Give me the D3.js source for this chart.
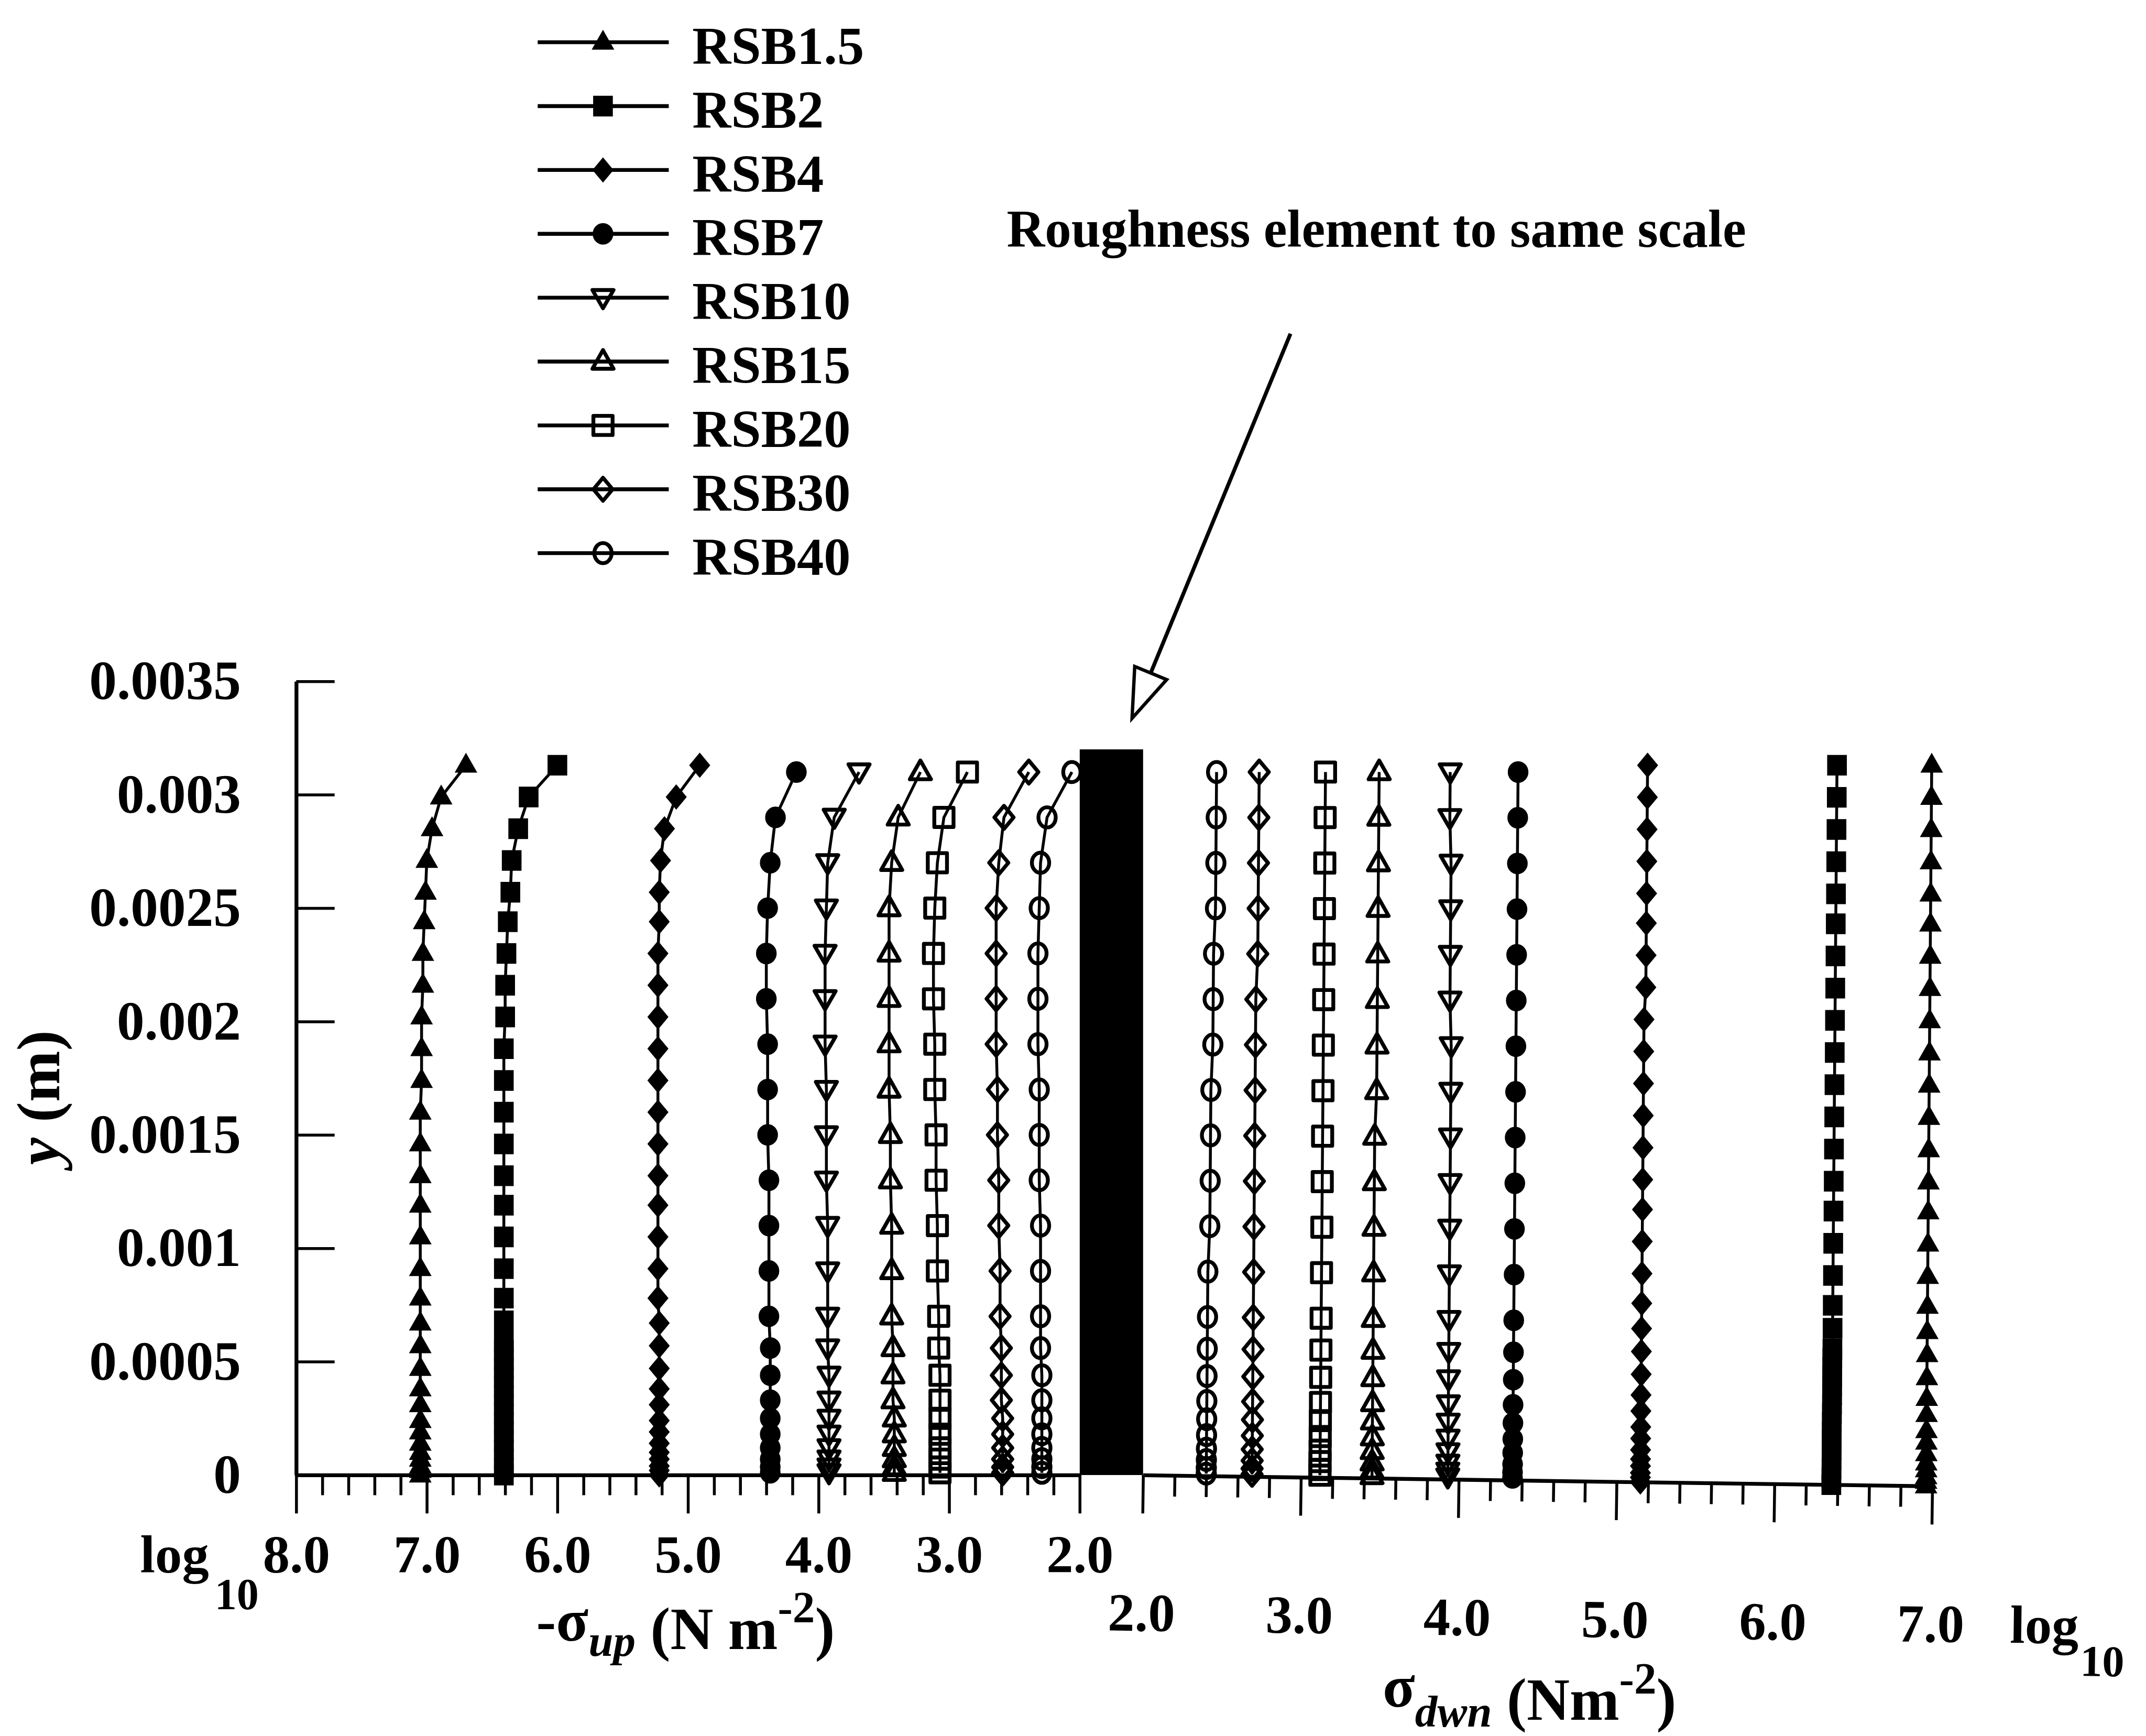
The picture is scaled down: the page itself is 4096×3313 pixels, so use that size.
<!DOCTYPE html>
<html>
<head>
<meta charset="utf-8">
<script src="https://cdn.jsdelivr.net/npm/d3@7"></script>
<style>
  html, body { margin: 0; padding: 0; background: #fff; }
  svg { display: block; }
</style>
</head>
<body>
<script>
// Stress profiles along the upstream (-σup) and downstream (σdwn) faces
// of a roughness element, for a family of RSB cases.

const seriesNames = ["RSB1.5", "RSB2", "RSB4", "RSB7", "RSB10", "RSB15", "RSB20", "RSB30", "RSB40"];

// Node heights above the wall (m)
const heightsFine = [0.00313, 0.00299, 0.00285, 0.00271, 0.00257, 0.00244, 0.00230, 0.00216, 0.00202,
  0.00188, 0.00174, 0.00160, 0.00146, 0.00132, 0.00119, 0.00105, 0.00091, 0.00078, 0.00067, 0.00057,
  0.00047, 0.00038, 0.00031, 0.00024, 0.00019, 0.00014, 0.00010, 0.00007, 0.00004, 0.00002, 0];
const heightsRSB2 = [0.00313, 0.00299, 0.00285, 0.00271, 0.00257, 0.00244, 0.00230, 0.00216, 0.00202,
  0.00188, 0.00174, 0.00160, 0.00146, 0.00132, 0.00119, 0.00105, 0.00091, 0.00078, 0.00068, 0.00059,
  0.00055, 0.00051, 0.00047, 0.00043, 0.00039, 0.00035, 0.00031, 0.00027, 0.00023, 0.00019, 0.00015,
  0.00011, 0.00007, 0.00003, 0];
const heightsCoarse = [0.0031, 0.0029, 0.0027, 0.0025, 0.0023, 0.0021, 0.0019, 0.0017, 0.0015, 0.0013,
  0.0011, 0.0009, 0.0007, 0.00056, 0.00044, 0.00033, 0.00025, 0.00018, 0.00012, 0.00007, 0.000035, 0.00001];

// Upstream face: log10(-σup)
const upRSB1_5 = [6.70, 6.89, 6.96, 7.00, 7.01, 7.02, 7.03, 7.03, 7.04, 7.04, 7.04, 7.05, 7.05, 7.05, 7.05,
  7.05, 7.05, 7.05, 7.05, 7.05, 7.05, 7.05, 7.05, 7.05, 7.05, 7.05, 7.05, 7.05, 7.05, 7.05, 7.05];
const upRSB2 = [6.00, 6.22, 6.30, 6.35, 6.36, 6.38, 6.39, 6.40, 6.40, 6.41, 6.41, 6.41, 6.41, 6.41, 6.41,
  6.41, 6.41, 6.41, 6.41, 6.41, 6.41, 6.41, 6.41, 6.41, 6.41, 6.41, 6.41, 6.41, 6.41, 6.41, 6.41,
  6.41, 6.41, 6.41, 6.41];
const upRSB4 = [4.91, 5.09, 5.18, 5.21, 5.22, 5.22, 5.23, 5.23, 5.23, 5.23, 5.23, 5.23, 5.23, 5.23, 5.23,
  5.23, 5.23, 5.23, 5.22, 5.22, 5.22, 5.22, 5.22, 5.22, 5.22, 5.22, 5.22, 5.22, 5.22, 5.22, 5.22];
const upRSB7 = [4.17, 4.33, 4.37, 4.39, 4.40, 4.40, 4.39, 4.39, 4.39, 4.38, 4.38, 4.38, 4.38, 4.37, 4.37,
  4.37, 4.37, 4.37, 4.37, 4.37, 4.37, 4.37];
const upRSB10 = [3.69, 3.88, 3.93, 3.94, 3.95, 3.95, 3.95, 3.94, 3.94, 3.94, 3.93, 3.93, 3.93, 3.93, 3.92,
  3.92, 3.92, 3.92, 3.92, 3.92, 3.92, 3.92];
const upRSB15 = [3.22, 3.39, 3.44, 3.46, 3.46, 3.46, 3.46, 3.46, 3.45, 3.45, 3.44, 3.44, 3.44, 3.43, 3.43,
  3.43, 3.42, 3.42, 3.42, 3.42, 3.42, 3.42];
const upRSB20 = [2.86, 3.04, 3.09, 3.11, 3.12, 3.12, 3.11, 3.11, 3.10, 3.10, 3.09, 3.09, 3.08, 3.08, 3.07,
  3.07, 3.07, 3.07, 3.07, 3.07, 3.07, 3.07];
const upRSB30 = [2.39, 2.58, 2.62, 2.64, 2.64, 2.64, 2.64, 2.63, 2.63, 2.62, 2.62, 2.61, 2.61, 2.60, 2.60,
  2.60, 2.59, 2.59, 2.59, 2.59, 2.59, 2.59];
const upRSB40 = [2.06, 2.25, 2.30, 2.31, 2.32, 2.32, 2.32, 2.31, 2.31, 2.31, 2.30, 2.30, 2.30, 2.30, 2.29,
  2.29, 2.29, 2.29, 2.29, 2.29, 2.29, 2.29];

// Downstream face: log10(σdwn)
const dnRSB1_5 = [6.96, 6.96, 6.96, 6.96, 6.96, 6.96, 6.96, 6.96, 6.96, 6.96, 6.96, 6.96, 6.96, 6.96, 6.96,
  6.96, 6.96, 6.96, 6.96, 6.96, 6.96, 6.96, 6.96, 6.96, 6.96, 6.96, 6.96, 6.96, 6.96, 6.96, 6.96];
const dnRSB2 = [6.36, 6.36, 6.36, 6.36, 6.36, 6.36, 6.36, 6.36, 6.36, 6.36, 6.36, 6.36, 6.36, 6.36, 6.36,
  6.36, 6.36, 6.36, 6.36, 6.36, 6.36, 6.36, 6.36, 6.36, 6.36, 6.36, 6.36, 6.36, 6.36, 6.36, 6.36,
  6.36, 6.36, 6.36, 6.36];
const dnRSB4 = [5.16, 5.16, 5.16, 5.16, 5.16, 5.16, 5.16, 5.16, 5.15, 5.15, 5.15, 5.15, 5.15, 5.15, 5.15,
  5.15, 5.15, 5.15, 5.15, 5.15, 5.15, 5.15, 5.15, 5.15, 5.15, 5.15, 5.15, 5.15, 5.15, 5.15, 5.15];
const dnRSB7 = [4.34, 4.34, 4.34, 4.34, 4.34, 4.34, 4.34, 4.34, 4.34, 4.34, 4.34, 4.34, 4.34, 4.34, 4.34,
  4.34, 4.34, 4.34, 4.34, 4.34, 4.34, 4.34];
const dnRSB10 = [3.91, 3.91, 3.92, 3.92, 3.92, 3.92, 3.93, 3.93, 3.93, 3.93, 3.93, 3.93, 3.93, 3.93, 3.93,
  3.93, 3.93, 3.93, 3.93, 3.93, 3.93, 3.93];
const dnRSB15 = [3.46, 3.46, 3.46, 3.46, 3.46, 3.46, 3.46, 3.46, 3.45, 3.45, 3.45, 3.45, 3.45, 3.45, 3.45,
  3.45, 3.45, 3.45, 3.45, 3.45, 3.45, 3.45];
const dnRSB20 = [3.12, 3.12, 3.12, 3.12, 3.12, 3.12, 3.12, 3.12, 3.12, 3.12, 3.12, 3.12, 3.12, 3.12, 3.12,
  3.12, 3.12, 3.12, 3.12, 3.12, 3.12, 3.12];
const dnRSB30 = [2.70, 2.70, 2.70, 2.70, 2.70, 2.69, 2.69, 2.69, 2.69, 2.69, 2.69, 2.69, 2.69, 2.69, 2.69,
  2.69, 2.69, 2.69, 2.69, 2.69, 2.69, 2.69];
const dnRSB40 = [2.43, 2.43, 2.43, 2.43, 2.42, 2.42, 2.42, 2.41, 2.41, 2.41, 2.41, 2.40, 2.40, 2.40, 2.40,
  2.40, 2.40, 2.40, 2.40, 2.40, 2.40, 2.40];

// Axis ticks and labels
const yTicks = [0, 0.0005, 0.001, 0.0015, 0.002, 0.0025, 0.003, 0.0035];
const yTickLabels = ["0", "0.0005", "0.001", "0.0015", "0.002", "0.0025", "0.003", "0.0035"];
const upTicks = [8, 7, 6, 5, 4, 3, 2];
const upTickLabels = ["8.0", "7.0", "6.0", "5.0", "4.0", "3.0", "2.0"];
const dnTicks = [2, 3, 4, 5, 6, 7];
const dnTickLabels = ["2.0", "3.0", "4.0", "5.0", "6.0", "7.0"];
const elementHeight = 0.0032;   // roughness element, same vertical scale

// ---------------------------------------------------------------------------
const W = 4096, H = 3313, S = W / 4470;
const FONT = "'Liberation Serif','Times New Roman',Times,serif";

const svg = d3.select("body").append("svg")
  .attr("width", W).attr("height", H).attr("viewBox", `0 0 ${W} ${H}`);
svg.append("rect").attr("width", W).attr("height", H).attr("fill", "#fff");
const root = svg.append("g").attr("transform", `scale(${S})`);

const y = d3.scaleLinear().domain([0, 0.0035]).range([3072, 1419]);
const xUp = d3.scaleLinear().domain([8, 2]).range([617, 2249]);
const xDn = d3.scaleLinear().domain([2, 7]).range([2381, 4025]);

// The downstream panel sits a little skewed: its baseline falls to the right
// while the profile tops stay level, and the profiles lean slightly right.
const dnDip = 0.014;
const dnLean = 0.008;
const dnDipDeg = Math.atan(dnDip) * 180 / Math.PI;
const profileTop = 0.0031;
function dnPoint(v, h) {
  const px = xDn(v), py = y(h);
  const rise = y(0) - py;
  const frac = Math.min(rise / (y(0) - y(profileTop)), 1);
  return [px + dnLean * rise, py + dnDip * (px - xDn(2)) * (1 - frac)];
}

// Marker glyphs
const shapes = {
  triUp: "M0,-23L21,14L-21,14Z",
  triDown: "M0,22L21,-15L-21,-15Z",
  square: "M-19,-20H19V20H-19Z",
  diamond: "M0,-24L20,0L0,24L-20,0Z",
  circle: "M20,0A20,21 0 1 1 -20,0A20,21 0 1 1 20,0Z"
};
const openShapes = {
  triUp: "M0,-24L22,15L-22,15Z",
  triDown: "M0,22L22,-16L-22,-16Z",
  square: "M-20,-20H20V20H-20Z",
  diamond: "M0,-24L20,0L0,24L-20,0Z",
  circle: "M18,0A18,21 0 1 1 -18,0A18,21 0 1 1 18,0Z"
};
const markerStyles = [
  { shape: "triUp", filled: true },
  { shape: "square", filled: true },
  { shape: "diamond", filled: true },
  { shape: "circle", filled: true },
  { shape: "triDown", filled: false },
  { shape: "triUp", filled: false },
  { shape: "square", filled: false },
  { shape: "diamond", filled: false },
  { shape: "circle", filled: false }
];

function applyMarker(sel, style) {
  if (style.filled) {
    sel.attr("d", shapes[style.shape]).attr("fill", "#000").attr("stroke", "#000").attr("stroke-width", 3);
  } else {
    sel.attr("d", openShapes[style.shape]).attr("fill", "none").attr("stroke", "#000")
      .attr("stroke-width", 8).attr("stroke-linejoin", "round");
  }
}

const upstream = [
  { h: heightsFine, v: upRSB1_5 }, { h: heightsRSB2, v: upRSB2 }, { h: heightsFine, v: upRSB4 },
  { h: heightsCoarse, v: upRSB7 }, { h: heightsCoarse, v: upRSB10 }, { h: heightsCoarse, v: upRSB15 },
  { h: heightsCoarse, v: upRSB20 }, { h: heightsCoarse, v: upRSB30 }, { h: heightsCoarse, v: upRSB40 }
];
const downstream = [
  { h: heightsFine, v: dnRSB1_5 }, { h: heightsRSB2, v: dnRSB2 }, { h: heightsFine, v: dnRSB4 },
  { h: heightsCoarse, v: dnRSB7 }, { h: heightsCoarse, v: dnRSB10 }, { h: heightsCoarse, v: dnRSB15 },
  { h: heightsCoarse, v: dnRSB20 }, { h: heightsCoarse, v: dnRSB30 }, { h: heightsCoarse, v: dnRSB40 }
];

// Draw an axis into a fresh group and give it the figure's typography
function drawAxis(parent, axis, size) {
  const g = parent.append("g").call(axis);
  g.attr("font-family", FONT).attr("font-size", size).attr("font-weight", "bold");
  g.selectAll(".domain").attr("stroke-width", 8);
  g.selectAll(".tick line").attr("stroke-width", 6);
  g.selectAll("text").attr("fill", "#000");
  return g;
}

// ---- y axis --------------------------------------------------------------
const yAxisHolder = root.append("g").attr("transform", `translate(${xUp(8)},0)`);
drawAxis(yAxisHolder, d3.axisLeft(y).tickValues(yTicks).tickSize(-80).tickSizeOuter(0).tickPadding(115)
  .tickFormat((d, i) => yTickLabels[i]), 115);

const yTitle = root.append("text")
  .attr("transform", "translate(123,2286) rotate(-90)")
  .attr("text-anchor", "middle").attr("font-family", FONT).attr("font-size", 128).attr("font-weight", "bold");
yTitle.append("tspan").attr("font-style", "italic").text("y");
yTitle.append("tspan").text(" (m)");

// ---- upstream x axis -----------------------------------------------------
const upMinor = d3.range(2.2, 8, 0.2).filter(v => Math.abs(v - Math.round(v)) > 0.05);
const upAxisG = root.append("g").attr("transform", `translate(0,${y(0)})`);
drawAxis(upAxisG, d3.axisBottom(xUp).tickValues(upMinor).tickSize(42).tickSizeOuter(0).tickFormat(""), 112)
  .call(g => g.select(".domain").remove());
drawAxis(upAxisG, d3.axisBottom(xUp).tickValues(upTicks).tickSize(80).tickSizeOuter(0).tickPadding(44)
  .tickFormat((d, i) => upTickLabels[i]), 112);

const upLog = root.append("text").attr("x", 292).attr("y", 3275)
  .attr("font-family", FONT).attr("font-size", 112).attr("font-weight", "bold");
upLog.append("tspan").text("log");
upLog.append("tspan").attr("font-size", 92).attr("dx", 12).attr("dy", 76).text("10");

const upTitle = root.append("text").attr("x", 1117).attr("y", 3434)
  .attr("font-family", FONT).attr("font-size", 124).attr("font-weight", "bold");
upTitle.append("tspan").attr("dy", -17).text("-σ");
upTitle.append("tspan").attr("font-size", 93).attr("font-style", "italic").attr("dy", 32).text("up");
upTitle.append("tspan").attr("dy", -15).text(" (N m");
upTitle.append("tspan").attr("font-size", 93).attr("dy", -55).text("-2");
upTitle.append("tspan").attr("dy", 55).text(")");

// ---- downstream x axis ---------------------------------------------------
const dnMinor = d3.range(2.2, 7, 0.2).filter(v => Math.abs(v - Math.round(v)) > 0.05);
const dnPanelAxis = root.append("g").attr("transform", `rotate(${dnDipDeg},${xDn(2)},${y(0)})`);
const dnAxisG = dnPanelAxis.append("g").attr("transform", `translate(0,${y(0)})`);
drawAxis(dnAxisG, d3.axisBottom(xDn).tickValues(dnMinor).tickSize(44).tickSizeOuter(0).tickFormat(""), 112)
  .call(g => g.select(".domain").remove());
drawAxis(dnAxisG, d3.axisBottom(xDn).tickValues(dnTicks).tickSize(80).tickSizeOuter(0).tickPadding(165)
  .tickFormat((d, i) => dnTickLabels[i]), 112);

const dnLog = dnPanelAxis.append("text").attr("x", 4191).attr("y", y(0) + 324)
  .attr("font-family", FONT).attr("font-size", 112).attr("font-weight", "bold");
dnLog.append("tspan").text("log");
dnLog.append("tspan").attr("font-size", 92).attr("dx", 4).attr("dy", 67).text("10");

const dnTitle = root.append("text").attr("x", 2880).attr("y", 3582)
  .attr("font-family", FONT).attr("font-size", 124).attr("font-weight", "bold");
dnTitle.append("tspan").attr("dy", -28).text("σ");
dnTitle.append("tspan").attr("font-size", 93).attr("font-style", "italic").attr("dy", 42).text("dwn");
dnTitle.append("tspan").attr("dy", -14).text(" (Nm");
dnTitle.append("tspan").attr("font-size", 93).attr("dy", -55).text("-2");
dnTitle.append("tspan").attr("dy", 55).text(")");

// ---- roughness element ---------------------------------------------------
root.append("rect")
  .attr("x", xUp(2)).attr("y", y(elementHeight))
  .attr("width", xDn(2) - xUp(2)).attr("height", y(0) - y(elementHeight))
  .attr("fill", "#000");

// ---- profiles ------------------------------------------------------------
const line = d3.line();
function drawProfile(pts, style) {
  const g = root.append("g");
  g.append("path").attr("d", line(pts)).attr("fill", "none")
    .attr("stroke", "#000").attr("stroke-width", 6).attr("stroke-linejoin", "round");
  g.selectAll("path.mk").data(pts).join("path").attr("class", "mk")
    .attr("transform", d => `translate(${d[0]},${d[1]})`)
    .call(sel => applyMarker(sel, style));
}
upstream.forEach((s, i) => drawProfile(s.h.map((h, k) => [xUp(s.v[k]), y(h)]), markerStyles[i]));
downstream.forEach((s, i) => drawProfile(s.h.map((h, k) => dnPoint(s.v[k], h)), markerStyles[i]));

// ---- legend --------------------------------------------------------------
const legendTop = 88, legendStep = 133;
seriesNames.forEach((name, i) => {
  const ly = legendTop + i * legendStep;
  const g = root.append("g");
  g.append("line").attr("x1", 1120).attr("x2", 1393).attr("y1", ly).attr("y2", ly)
    .attr("stroke", "#000").attr("stroke-width", 8);
  g.append("path").attr("transform", `translate(1256,${ly})`).call(sel => applyMarker(sel, markerStyles[i]));
  g.append("text").attr("x", 1442).attr("y", ly + 45)
    .attr("font-family", FONT).attr("font-size", 112).attr("font-weight", "bold").text(name);
});

// ---- annotation ----------------------------------------------------------
root.append("text").attr("x", 2097).attr("y", 514)
  .attr("font-family", FONT).attr("font-size", 112).attr("font-weight", "bold")
  .attr("textLength", 1540).attr("lengthAdjust", "spacingAndGlyphs")
  .text("Roughness element to same scale");

const arrowStart = [2688, 695], arrowTip = [2358, 1496];
const ax = arrowTip[0] - arrowStart[0], ay = arrowTip[1] - arrowStart[1];
const alen = Math.hypot(ax, ay), ux = ax / alen, uy = ay / alen;
const headLen = 102, headHalf = 36;
const base = [arrowTip[0] - ux * headLen, arrowTip[1] - uy * headLen];
root.append("line").attr("x1", arrowStart[0]).attr("y1", arrowStart[1])
  .attr("x2", base[0]).attr("y2", base[1]).attr("stroke", "#000").attr("stroke-width", 8);
root.append("path")
  .attr("d", `M${arrowTip[0]},${arrowTip[1]}L${base[0] - uy * headHalf},${base[1] + ux * headHalf}` +
    `L${base[0] + uy * headHalf},${base[1] - ux * headHalf}Z`)
  .attr("fill", "#fff").attr("stroke", "#000").attr("stroke-width", 7).attr("stroke-linejoin", "miter");
</script>
</body>
</html>
